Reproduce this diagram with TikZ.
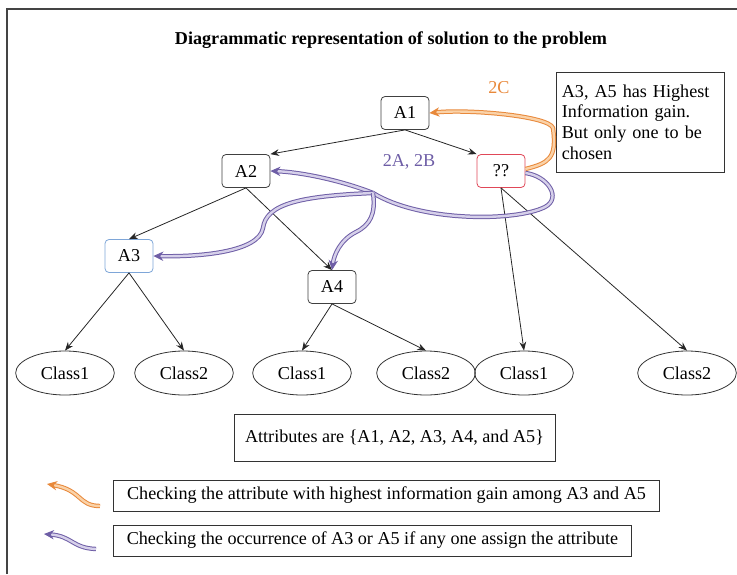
\documentclass[tikz,border=0pt]{standalone}
\usepackage{fontspec}
\setmainfont{Liberation Serif}
\usetikzlibrary{arrows.meta,shapes.geometric}
\definecolor{orgdark}{HTML}{E8883A}
\definecolor{orglight}{HTML}{FAD2A8}
\definecolor{purdark}{HTML}{6E5EA6}
\definecolor{purlight}{HTML}{D6D0EA}
\definecolor{boxred}{HTML}{E04858}
\definecolor{boxblue}{HTML}{7EA6D8}
\definecolor{framegray}{HTML}{444444}
\tikzset{
  txt/.style={font=\fontsize{13.6}{15.5}\selectfont},
  attr/.style={txt, draw=black!75, rounded corners=3pt, line width=0.6pt,
    minimum width=36pt, minimum height=24.75pt, inner sep=1pt, fill=white},
  leaf/.style={txt, ellipse, draw=black!80, line width=0.6pt,
    minimum width=74pt, minimum height=33pt, inner sep=0pt},
  plainbox/.style={txt, draw=black!80, line width=0.7pt, inner sep=2pt},
  edge/.style={line width=0.6pt, black!85, -{Stealth[length=6.5pt,width=5pt]}},
  orgline/.style={draw=orgdark, double=orglight, double distance=1.8pt, line width=0.75pt},
  purline/.style={draw=purdark, double=purlight, double distance=1.8pt, line width=0.75pt},
  orgtip/.style={orgline, -{Stealth[length=7.5pt,width=7pt,fill=orgdark]}},
  purtip/.style={purline, -{Stealth[length=7.5pt,width=7pt,fill=purdark]}},
}
\begin{document}
\begin{tikzpicture}[x=0.75pt,y=-0.75pt]
\useasboundingbox (0,0) rectangle (737,574);
% outer frame
\draw[framegray, line width=1.2pt] (7,574) -- (7,9) -- (737,9);

\node[font=\bfseries\fontsize{13.6}{15}\selectfont] (title) at (391,40) {Diagrammatic representation of solution to the problem};

% attribute nodes
\node[attr] (a1) at (405,113) {A1};
\node[attr] (a2) at (246,171) {A2};
\node[attr, draw=boxred] (q) at (501,171) {??};
\node[attr, draw=boxblue] (a3) at (129,256) {A3};
\node[attr] (a4) at (332,287) {A4};

% leaves
\node[leaf] (c1) at (65,373) {Class1};
\node[leaf] (c2) at (184,373) {Class2};
\node[leaf] (c3) at (302,373) {Class1};
\node[leaf] (c4) at (426,373) {Class2};
\node[leaf] (c5) at (524,373) {Class1};
\node[leaf] (c6) at (687,373) {Class2};

% tree edges
\draw[edge] (a1.south) -- (a2.north east);
\draw[edge] (a1.south) -- (q.north west);
\draw[edge] (a2.south) -- (a3.north);
\draw[edge] (a2.south) -- (a4.north);
\draw[edge] (a3.south) -- (c1.north);
\draw[edge] (a3.south) -- (c2.north);
\draw[edge] (a4.south) -- (c3.north);
\draw[edge] (a4.south) -- (c4.north);
\draw[edge] (q.south) -- (c5.north);
\draw[edge] (q.south) -- (c6.north);

% labels
\node[txt, text=orgdark] (l2c) at (499,88) {2C};
\node[txt, text=purdark] (l2ab) at (409,162) {2A, 2B};

% note
\node[plainbox, text width=118pt, align=left, minimum height=75pt, minimum width=125pt, inner sep=4pt] (note) at (640.5,122)
  {A3, A5 has Highest\\Information gain.\\But only one to be\\chosen};

% orange path
\draw[orgtip] ([yshift=1.5pt]q.east) .. controls +(24,-6) and +(4,30) .. (553,128)
  .. controls +(-4,-12) and +(40,-4) .. (a1.east);

% purple paths
\coordinate (jn) at (373,193);
\draw[purline] ([yshift=-1.5pt]q.east) .. controls (548,176) and (562,198) .. (545,207)
  .. controls (515,222) and (420,222) .. (jn);
\draw[purtip] (jn) .. controls (340,180) and (300,172) .. (a2.east);
\draw[purtip] (jn) .. controls (300,196) and (266,204) .. (263,228)
  .. controls (259,252) and (200,257) .. (a3.east);
\draw[purtip] (jn) .. controls (376,214) and (370,225) .. (356,232)
  .. controls (340,240) and (334,255) .. (a4.north);

% attributes box
\node[plainbox, minimum width=240.75pt, minimum height=35.25pt] (attrs) at (394.5,437.5)
  {Attributes are \{A1, A2, A3, A4, and A5\}};

% legend
\node[plainbox, minimum width=410pt, minimum height=23.25pt] (leg1) at (386.5,495.5)
  {Checking the attribute with highest information gain among A3 and A5};
\node[plainbox, minimum width=389pt, minimum height=23.25pt] (leg2) at (372.5,540.5)
  {Checking the occurrence of A3 or A5 if any one assign the attribute};

\coordinate (o1) at (100,506);
\coordinate (o2) at (47,484);
\draw[orgtip] (o1) .. controls (78,506) and (82,490) .. (o2);
\coordinate (p1) at (96,549);
\coordinate (p2) at (44,534);
\draw[purtip] (p1) .. controls (72,548) and (72,536) .. (p2);
\end{tikzpicture}
\end{document}
